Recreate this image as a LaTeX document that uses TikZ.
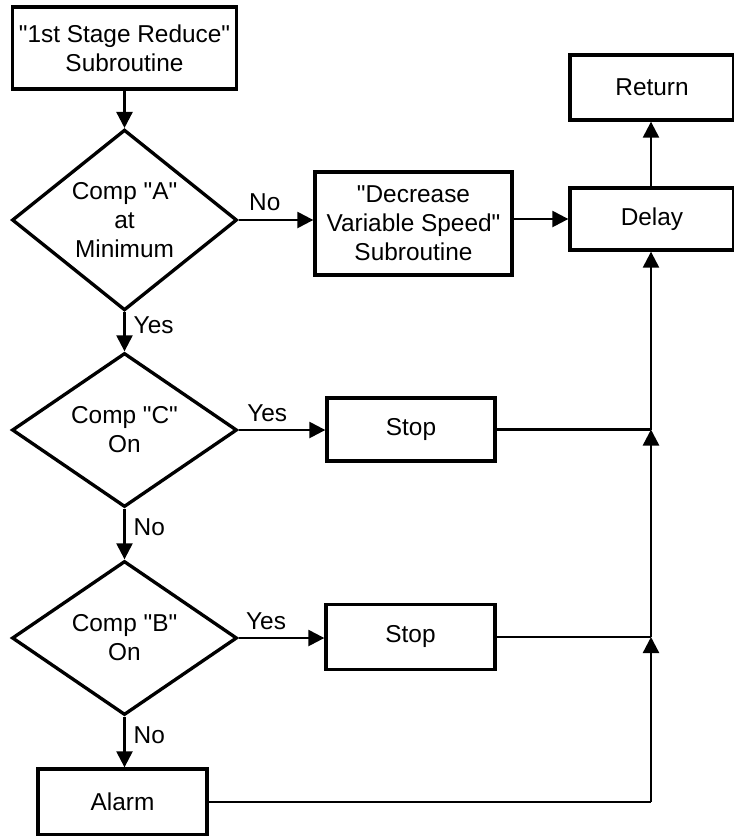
\documentclass[tikz,border=0pt]{standalone}
\usepackage{fontspec}
\setmainfont{Liberation Sans}
\usetikzlibrary{arrows.meta,shapes.geometric}
% one drawing unit = 0.75pt
\newdimen\pxu \pxu=0.75pt
% straight double quote
\newcommand{\dq}{\textquotedbl}
\begin{document}
\begin{tikzpicture}[x=0.75pt,y=-0.75pt,
  every node/.style={font=\fontsize{18.3}{21.75}\selectfont},
  box/.style={draw, line width=2.5pt, align=center, inner sep=0pt},
  decision/.style={draw, diamond, line width=2.5pt, align=center, inner sep=0pt,
    minimum width=225\pxu, minimum height=154\pxu},
  conn/.style={line width=1.8pt},
  flow/.style={conn, -{Triangle[length=12pt,width=12pt]}},
  lab/.style={inner sep=0pt}]
\useasboundingbox (0,0) rectangle (733,836);

% main column
\node[box, minimum width=224\pxu, minimum height=82\pxu] (start) at (124.5,48)
  {\dq1st Stage Reduce\dq\\Subroutine};
\node[decision] (compA) at (124.5,220) {Comp \dq A\dq\\at\\Minimum};
\node[decision] (compC) at (124.5,430) {Comp \dq C\dq\\On};
\node[decision] (compB) at (124.5,638) {Comp \dq B\dq\\On};
\node[box, minimum width=169\pxu, minimum height=66\pxu] (alarm) at (122.5,802) {Alarm};

% actions
\node[box, minimum width=197\pxu, minimum height=103\pxu] (decr) at (413.5,223.5)
  {\dq Decrease\\Variable Speed\dq\\Subroutine};
\node[box, minimum width=168\pxu, minimum height=63\pxu] (stopC) at (411,429.5) {Stop};
\node[box, minimum width=169\pxu, minimum height=65\pxu] (stopB) at (410.5,637) {Stop};

% exit column
\node[box, minimum width=164\pxu, minimum height=65\pxu] (return) at (652,87.5) {Return};
\node[box, minimum width=164\pxu, minimum height=62\pxu] (delay) at (652,219) {Delay};

% return trunk
\coordinate (trunk) at (651,0);
\coordinate (jA) at (alarm.east -| trunk);
\coordinate (jB) at (stopB.east -| trunk);
\coordinate (jC) at (stopC.east -| trunk);

% connectors
\draw[flow] (start.south) -- (compA.north);
\draw[flow] (compA.east) -- node[lab, above=8\pxu, pos=0.35] {No} (compA.east -| decr.west);
\draw[flow] (decr.east |- delay.west) -- (delay.west);
\draw[flow] (delay.north -| trunk) -- (return.south -| trunk);
\draw[flow] (compA.south) -- node[lab, right=8\pxu, pos=0.33] {Yes} (compC.north);
\draw[flow] (compC.east) -- node[lab, above=7\pxu, pos=0.33] {Yes} (compC.east -| stopC.west);
\draw[flow] (compC.south) -- node[lab, right=8\pxu, pos=0.37] {No} (compB.north);
\draw[flow] (compB.east) -- node[lab, above=7\pxu, pos=0.32] {Yes} (compB.east -| stopB.west);
\draw[flow] (compB.south) -- node[lab, right=8\pxu, pos=0.37] {No} (compB.south |- alarm.north);

\draw[conn] (alarm.east) -- (jA);
\draw[conn] (stopB.east) -- (jB);
\draw[conn] (stopC.east) -- (jC);
\draw[flow] (jA) -- (jB);
\draw[flow] (jB) -- (jC);
\draw[flow] (jC) -- (delay.south -| trunk);
\end{tikzpicture}
\end{document}
